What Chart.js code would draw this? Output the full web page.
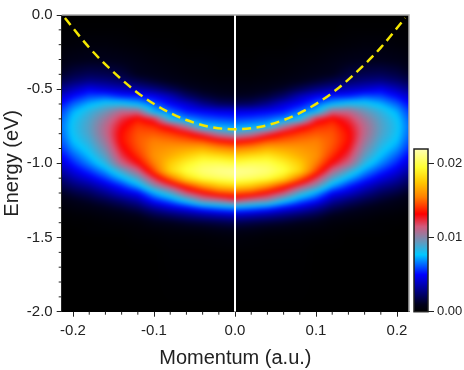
<!DOCTYPE html>
<html>
<head>
<meta charset="utf-8">
<script src="https://cdn.jsdelivr.net/npm/chart.js@4"></script>
<style>
  body { margin: 0; background: #fff; }
  #wrap { position: relative; width: 464px; height: 370px; }
  canvas { position: absolute; top: 0; }
</style>
</head>
<body>
<div id="wrap">
  <canvas id="plot" width="464" height="370" style="left:0"></canvas>
  <canvas id="bar" width="59" height="370" style="left:405px"></canvas>
</div>
<script>
// intensity, in units of 0.0001; the map is mirrored around k = 0
const momentum = [0, 0.02, 0.04, 0.06, 0.08, 0.10, 0.12, 0.14, 0.16, 0.18, 0.20, 0.22];
const energy = [0, -0.1, -0.2, -0.3, -0.4, -0.45, -0.5, -0.55, -0.6, -0.65, -0.7, -0.75, -0.8, -0.85, -0.9,
  -0.95, -1.0, -1.05, -1.1, -1.15, -1.2, -1.25, -1.3, -1.35, -1.4, -1.45, -1.5, -1.6, -2.0];
const intensity = [
  [0, 0, 0, 0, 0, 0, 0, 0, 0, 0, 0, 0],
  [0, 0, 0, 0, 0, 0, 0, 1, 1, 1, 1, 1],
  [0, 0, 0, 0, 1, 1, 2, 3, 4, 4, 3, 2],
  [1, 1, 2, 2, 3, 4, 6, 8, 9, 9, 8, 5],
  [2, 2, 3, 4, 6, 8, 10, 16, 19, 20, 17, 11],
  [4, 4, 5, 7, 10, 14, 19, 24, 28, 30, 25, 17],
  [6, 7, 9, 13, 20, 28, 34, 38, 42, 47, 38, 26],
  [11, 12, 16, 24, 38, 48, 54, 56, 62, 60, 51, 37],
  [20, 22, 30, 42, 50, 62, 75, 82, 82, 74, 63, 46],
  [45, 46, 49, 53, 64, 75, 110, 110, 96, 85, 73, 52],
  [57, 59, 62, 68, 80, 122, 135, 123, 105, 90, 78, 56],
  [70, 73, 76, 105, 125, 139, 143, 130, 110, 92, 80, 58],
  [95, 103, 120, 135, 143, 148, 147, 134, 110, 91, 79, 57],
  [130, 136, 146, 150, 153, 155, 148, 134, 106, 87, 76, 54],
  [155, 160, 168, 165, 162, 158, 146, 129, 100, 82, 70, 50],
  [178, 183, 187, 178, 168, 160, 140, 122, 93, 76, 62, 44],
  [198, 202, 201, 191, 177, 155, 130, 112, 84, 68, 54, 37],
  [214, 212, 208, 198, 180, 145, 112, 91, 71, 57, 45, 29],
  [208, 204, 198, 182, 152, 122, 92, 74, 58, 45, 35, 21],
  [182, 176, 162, 142, 120, 100, 73, 56, 43, 32, 25, 15],
  [148, 143, 130, 115, 90, 73, 50, 41, 30, 21, 16, 9],
  [118, 108, 102, 82, 65, 53, 34, 25, 18, 13, 9, 5],
  [70, 66, 60, 50, 42, 32, 20, 14, 10, 7, 5, 3],
  [39, 36, 32, 27, 22, 17, 10, 7, 5, 3, 2, 1],
  [19, 17, 15, 13, 10, 8, 4, 3, 2, 1, 1, 0],
  [9, 8, 6, 5, 4, 3, 2, 1, 1, 1, 0, 0],
  [4, 3, 2, 2, 2, 1, 1, 0, 0, 0, 0, 0],
  [1, 1, 1, 1, 1, 0, 0, 0, 0, 0, 0, 0],
  [0, 0, 0, 0, 0, 0, 0, 0, 0, 0, 0, 0]
];

// dashed band and the line at k = 0
const bandK = [-0.21, -0.18, -0.15, -0.12, -0.09, -0.06, -0.03, 0, 0.03, 0.06, 0.09, 0.12, 0.15, 0.18, 0.21];
const bandE = [-0.02, -0.22, -0.385, -0.525, -0.632, -0.708, -0.755, -0.77, -0.755, -0.708, -0.632, -0.525, -0.385, -0.22, -0.02];
const centerK = [0, 0];
const centerE = [0, -2];

// ticks
const xMajor = [-0.2, -0.1, 0, 0.1, 0.2];
const xMinor = [-0.18, -0.16, -0.14, -0.12, -0.08, -0.06, -0.04, -0.02, 0.02, 0.04, 0.06, 0.08, 0.12, 0.14, 0.16, 0.18];
const yMajor = [0, -0.5, -1, -1.5, -2];
const yMinor = [-0.1, -0.2, -0.3, -0.4, -0.6, -0.7, -0.8, -0.9, -1.1, -1.2, -1.3, -1.4, -1.6, -1.7, -1.8, -1.9];
const barTicks = [0, 0.01, 0.02];

// colour scale, value in units of 0.0001
const stopValues = [0, 10, 20, 50, 77, 95, 115, 132, 155, 175, 195, 220];
const stopColors = [[0, 0, 0], [0, 0, 28], [0, 0, 85], [0, 0, 255], [0, 200, 255], [105, 150, 185],
  [210, 90, 125], [255, 0, 0], [255, 128, 0], [255, 200, 0], [255, 255, 50], [255, 255, 180]];

const FONT = "'Liberation Sans', Arial, sans-serif";
const INK = "#222222";

const colorFor = (v) => {
  let i = 0;
  while (i < stopValues.length - 2 && v > stopValues[i + 1]) i++;
  const t = Math.min(1, Math.max(0, (v - stopValues[i]) / (stopValues[i + 1] - stopValues[i])));
  return stopColors[i].map((c, n) => c + (stopColors[i + 1][n] - c) * t);
};

const sampleMap = (k, e) => {
  let c = 0;
  while (c < momentum.length - 2 && k > momentum[c + 1]) c++;
  let r = 0;
  while (r < energy.length - 2 && e < energy[r + 1]) r++;
  const tc = (k - momentum[c]) / (momentum[c + 1] - momentum[c]);
  const tr = (e - energy[r]) / (energy[r + 1] - energy[r]);
  const top = intensity[r][c] * (1 - tc) + intensity[r][c + 1] * tc;
  const bot = intensity[r + 1][c] * (1 - tc) + intensity[r + 1][c + 1] * tc;
  return top * (1 - tr) + bot * tr;
};

const heatmapPlugin = {
  id: "heatmap",
  beforeDatasetsDraw(chart) {
    const { ctx, chartArea: a, scales } = chart;
    const left = Math.round(a.left), top = Math.round(a.top);
    const w = Math.round(a.right) - left, h = Math.round(a.bottom) - top;
    const off = document.createElement("canvas");
    off.width = w;
    off.height = h;
    const octx = off.getContext("2d");
    const img = octx.createImageData(w, h);
    for (let py = 0; py < h; py++) {
      const e = scales.y.getValueForPixel(top + py + 0.5);
      for (let px = 0; px < w; px++) {
        const k = Math.abs(scales.x.getValueForPixel(left + px + 0.5));
        const rgb = colorFor(sampleMap(k, e));
        const p = (py * w + px) * 4;
        img.data[p] = rgb[0];
        img.data[p + 1] = rgb[1];
        img.data[p + 2] = rgb[2];
        img.data[p + 3] = 255;
      }
    }
    octx.putImageData(img, 0, 0);
    ctx.save();
    ctx.beginPath();
    ctx.rect(left, top, w, h);
    ctx.clip();
    ctx.drawImage(off, left, top);
    // soft edge, the grid is coarse
    ctx.filter = "blur(2px)";
    ctx.drawImage(off, left, top);
    ctx.restore();
  },
  afterDraw(chart) {
    const { ctx, chartArea: a, scales } = chart;
    ctx.save();
    // grey frame on the top and right edge
    ctx.strokeStyle = "#a8a8a8";
    ctx.lineWidth = 1.5;
    ctx.beginPath();
    ctx.moveTo(a.left, a.top);
    ctx.lineTo(a.right, a.top);
    ctx.lineTo(a.right, a.bottom);
    ctx.stroke();
    // minor ticks
    ctx.strokeStyle = INK;
    ctx.lineWidth = 1;
    ctx.beginPath();
    xMinor.forEach((v) => {
      const px = scales.x.getPixelForValue(v);
      ctx.moveTo(px, a.bottom);
      ctx.lineTo(px, a.bottom + 3);
    });
    yMinor.forEach((v) => {
      const py = scales.y.getPixelForValue(v);
      ctx.moveTo(a.left, py);
      ctx.lineTo(a.left - 3, py);
    });
    ctx.stroke();
    ctx.restore();
  }
};

const colorbarPlugin = {
  id: "colorbar",
  beforeDatasetsDraw(chart) {
    const { ctx, chartArea: a, scales } = chart;
    const y0 = scales.y.getPixelForValue(0);
    const y1 = scales.y.getPixelForValue(0.022);
    const grad = ctx.createLinearGradient(0, y0, 0, y1);
    stopValues.forEach((v, i) => {
      const c = stopColors[i];
      grad.addColorStop(v / 220, `rgb(${c[0]},${c[1]},${c[2]})`);
    });
    ctx.save();
    ctx.fillStyle = grad;
    ctx.fillRect(a.left, y1, a.right - a.left, y0 - y1);
    ctx.strokeStyle = "#222";
    ctx.lineWidth = 1.5;
    ctx.strokeRect(a.left, y1, a.right - a.left, y0 - y1);
    ctx.restore();
  }
};

new Chart(document.getElementById("plot"), {
  type: "scatter",
  data: {
    datasets: [
      {
        data: bandK.map((k, i) => ({ x: k, y: bandE[i] })),
        showLine: true,
        borderColor: "#f4e600",
        borderWidth: 2.5,
        borderDash: [9, 5.5],
        cubicInterpolationMode: "monotone",
        pointRadius: 0
      },
      {
        data: centerK.map((k, i) => ({ x: k, y: centerE[i] })),
        showLine: true,
        borderColor: "#ffffff",
        borderWidth: 2,
        pointRadius: 0
      }
    ]
  },
  options: {
    responsive: false,
    animation: false,
    events: [],
    layout: { padding: { top: 15, right: 55 } },
    plugins: { legend: { display: false }, tooltip: { enabled: false } },
    scales: {
      x: {
        type: "linear",
        min: -0.214,
        max: 0.2148,
        afterFit: (s) => { s.height = 58.3; },
        afterBuildTicks: (s) => { s.ticks = xMajor.map((v) => ({ value: v })); },
        border: { color: INK, width: 1 },
        grid: { drawOnChartArea: false, tickLength: 5, color: INK },
        ticks: {
          color: INK,
          font: { family: FONT, size: 15 },
          padding: 5,
          maxRotation: 0,
          callback: (v) => v.toFixed(1)
        },
        title: {
          display: true,
          text: "Momentum (a.u.)",
          color: INK,
          font: { family: FONT, size: 20 },
          padding: { top: 4, bottom: 0 }
        }
      },
      y: {
        type: "linear",
        min: -2,
        max: 0,
        afterFit: (s) => { s.width = 61.7; },
        afterBuildTicks: (s) => { s.ticks = yMajor.map((v) => ({ value: v })); },
        border: { color: INK, width: 1 },
        grid: { drawOnChartArea: false, tickLength: 5, color: INK },
        ticks: {
          color: INK,
          font: { family: FONT, size: 15 },
          padding: 4,
          callback: (v) => v.toFixed(1)
        },
        title: {
          display: true,
          text: "Energy (eV)",
          color: INK,
          font: { family: FONT, size: 20 },
          padding: { top: 0, bottom: 0 }
        }
      }
    }
  },
  plugins: [heatmapPlugin]
});

new Chart(document.getElementById("bar"), {
  type: "scatter",
  data: { datasets: [{ data: [] }] },
  options: {
    responsive: false,
    animation: false,
    events: [],
    layout: { padding: { top: 149, left: 9, bottom: 58.3 } },
    plugins: { legend: { display: false }, tooltip: { enabled: false } },
    scales: {
      x: { display: false, min: 0, max: 1 },
      y: {
        position: "right",
        min: 0,
        max: 0.022,
        afterFit: (s) => { s.width = 36; },
        afterBuildTicks: (s) => { s.ticks = barTicks.map((v) => ({ value: v })); },
        border: { display: false },
        grid: { drawOnChartArea: false, tickLength: 6, color: "#222" },
        ticks: {
          color: INK,
          font: { family: FONT, size: 13 },
          padding: 3,
          callback: (v) => v.toFixed(2)
        }
      }
    }
  },
  plugins: [colorbarPlugin]
});
</script>
</body>
</html>
